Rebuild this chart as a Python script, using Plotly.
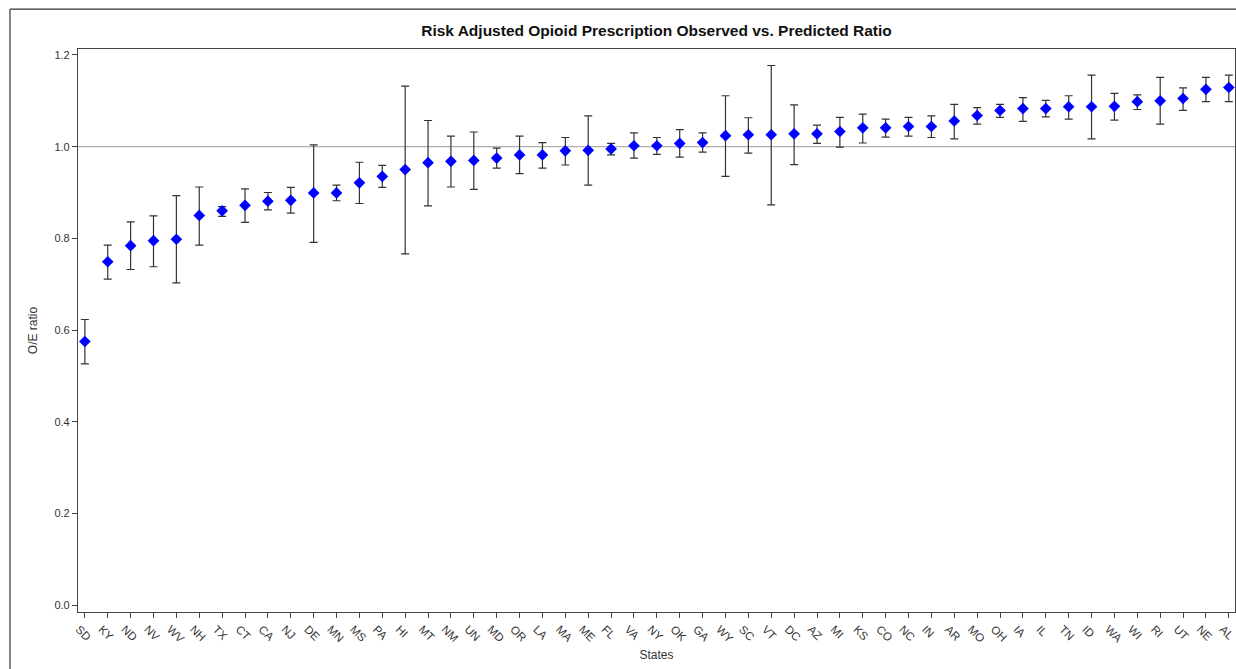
import plotly.graph_objects as go

states = ["SD","KY","ND","NV","WV","NH","TX","CT","CA","NJ","DE","MN","MS","PA","HI",
          "MT","NM","UN","MD","OR","LA","MA","ME","FL","VA","NY","OK","GA","WY","SC",
          "VT","DC","AZ","MI","KS","CO","NC","IN","AR","MO","OH","IA","IL","TN","ID",
          "WA","WI","RI","UT","NE","AL"]
oe_ratio = [0.575,0.749,0.784,0.795,0.798,0.850,0.860,0.872,0.881,0.883,0.899,0.899,0.921,0.935,0.950,
            0.965,0.968,0.970,0.975,0.982,0.982,0.991,0.992,0.995,1.002,1.002,1.007,1.009,1.024,1.026,
            1.026,1.028,1.028,1.033,1.041,1.041,1.044,1.044,1.056,1.068,1.079,1.083,1.083,1.087,1.087,
            1.088,1.098,1.100,1.105,1.125,1.129]
upper_ci = [0.623,0.785,0.836,0.849,0.893,0.912,0.869,0.908,0.900,0.911,1.004,0.916,0.966,0.959,1.132,
            1.057,1.023,1.032,0.997,1.023,1.009,1.020,1.067,1.007,1.030,1.020,1.037,1.030,1.111,1.063,
            1.177,1.091,1.047,1.064,1.071,1.060,1.064,1.067,1.092,1.085,1.092,1.107,1.101,1.111,1.156,
            1.116,1.113,1.151,1.128,1.151,1.156]
lower_ci = [0.526,0.711,0.732,0.738,0.703,0.785,0.848,0.835,0.862,0.855,0.791,0.882,0.876,0.911,0.766,
            0.871,0.912,0.907,0.953,0.941,0.953,0.960,0.916,0.982,0.975,0.983,0.977,0.988,0.935,0.986,
            0.873,0.961,1.007,0.999,1.008,1.021,1.023,1.020,1.017,1.049,1.064,1.055,1.065,1.060,1.017,
            1.058,1.081,1.049,1.079,1.098,1.098]

err_plus = [u - v for u, v in zip(upper_ci, oe_ratio)]
err_minus = [v - l for v, l in zip(oe_ratio, lower_ci)]

FONT = "Liberation Sans, Arial, sans-serif"

fig = go.Figure()
fig.add_trace(go.Scatter(
    x=states, y=oe_ratio, mode="markers",
    marker=dict(symbol="diamond", size=9, color="#0000ff"),
    error_y=dict(type="data", symmetric=False, array=err_plus, arrayminus=err_minus,
                 color="#333333", thickness=1.2, width=4),
    showlegend=False,
))

fig.add_hline(y=1.0, line=dict(color="#b0b0b0", width=1.2), layer="below")

# outer frame lines
fig.add_shape(type="line", xref="paper", yref="paper", x0=-0.0588, x1=1.01, y0=1.071, y1=1.071,
              line=dict(color="#333333", width=1.2))
fig.add_shape(type="line", xref="paper", yref="paper", x0=-0.0588, x1=-0.0588, y0=-0.11, y1=1.071,
              line=dict(color="#333333", width=1.2))

fig.update_layout(
    width=1236, height=669,
    margin=dict(l=78, r=1, t=49, b=57),
    paper_bgcolor="white", plot_bgcolor="white",
    font=dict(family=FONT, color="#333333", size=11),
    title=dict(text="<b>Risk Adjusted Opioid Prescription Observed vs. Predicted Ratio</b>",
               x=0.5, xref="paper", y=1 - 31 / 669, yanchor="middle",
               font=dict(family=FONT, size=15.5, color="#111111")),
    xaxis=dict(
        type="category", range=[-0.3, 50.27], tickangle=45, ticklabelshift=-6,
        showline=True, linecolor="#444444", linewidth=1.2, mirror=True,
        ticks="outside", ticklen=5, tickcolor="#444444", showgrid=False,
        tickfont=dict(size=11.5, color="#333333"),
        title=dict(text="States", font=dict(size=12, color="#333333"), standoff=6),
    ),
    yaxis=dict(
        range=[-0.015, 1.213], tickvals=[0.0, 0.2, 0.4, 0.6, 0.8, 1.0, 1.2],
        tickformat=".1f", showline=True, linecolor="#444444", linewidth=1.2, mirror=True,
        ticks="outside", ticklen=5, tickcolor="#444444", showgrid=False, zeroline=False,
        tickfont=dict(size=11, color="#333333"),
        title=dict(text="O/E ratio", font=dict(size=12, color="#333333"), standoff=14),
    ),
)

fig.write_html("out.html", config={"displayModeBar": False},
               post_script="document.body.style.margin='0';document.body.style.overflow='hidden';")
